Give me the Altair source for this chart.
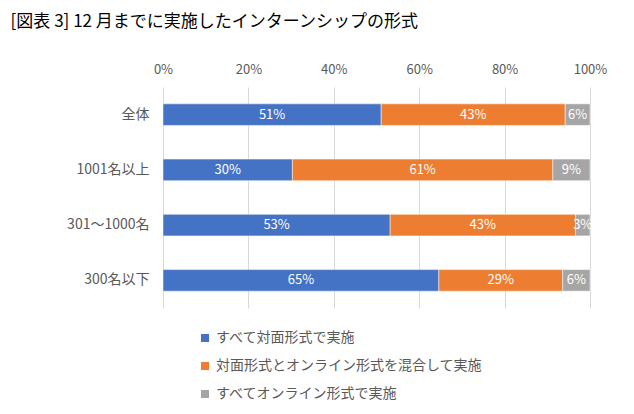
import altair as alt
import pandas as pd

categories = ["全体", "1001名以上", "301～1000名", "300名以下"]
series = ["すべて対面形式で実施", "対面形式とオンライン形式を混合して実施", "すべてオンライン形式で実施"]
in_person = [51.1, 30.3, 53.2, 64.6]
hybrid = [43.1, 61.0, 43.4, 29.0]
online = [5.8, 8.7, 3.4, 6.4]
colors = ["#4472C4", "#ED7D31", "#A5A5A5"]
ticks = [0, 20, 40, 60, 80, 100]
title_text = "[図表 3] 12 月までに実施したインターンシップの形式"

rows = []
for i, c in enumerate(categories):
    for j, (s, vals) in enumerate(zip(series, [in_person, hybrid, online])):
        rows.append({"cat": c, "series": s, "order": j, "value": vals[i]})
df = pd.DataFrame(rows)

FONT = "Noto Sans CJK JP"
GRAY = "#595959"

base = alt.Chart(df).transform_stack(
    stack="value", groupby=["cat"], sort=[alt.SortField("order", order="ascending")], as_=["x0", "x1"]
).transform_calculate(
    mid="(datum.x0 + datum.x1) / 2",
    label="format(datum.value, '.0f') + '%'"
)

y_enc = alt.Y(
    "cat:N", sort=categories, title=None,
    scale=alt.Scale(paddingInner=0.61, paddingOuter=0.305),
    axis=alt.Axis(domain=False, ticks=False, grid=False, labelFont=FONT, labelFontSize=14,
                  labelColor=GRAY, labelPadding=14)
)

bars = base.mark_bar(stroke="white", strokeWidth=0.5).encode(
    x=alt.X("x0:Q", scale=alt.Scale(domain=[0, 100], nice=False),
            axis=alt.Axis(orient="top", values=ticks, labelExpr="datum.value + '%'", title=None,
                          domain=False, ticks=False, grid=True, gridColor="#D9D9D9", gridWidth=1,
                          labelFlush=False, labelOverlap=False,
                          labelFont=FONT, labelFontSize=13, labelColor=GRAY, labelPadding=11)),
    x2="x1:Q",
    y=y_enc,
    color=alt.Color("series:N", sort=series, scale=alt.Scale(domain=series, range=colors),
                    legend=alt.Legend(title=None, orient="none", legendX=35, legendY=244, direction="vertical",
                                      symbolType="square", symbolSize=64, symbolStrokeWidth=0,
                                      labelFont=FONT, labelFontSize=14, labelColor=GRAY, labelLimit=500,
                                      rowPadding=14, padding=0, labelOffset=4)),
    order=alt.Order("order:Q")
)

texts = base.mark_text(color="white", font=FONT, fontSize=13).encode(
    x=alt.X("mid:Q"),
    y=alt.Y("cat:N", sort=categories),
    text="label:N"
)

chart = alt.layer(bars, texts).properties(
    width=427, height=221,
    title=alt.TitleParams(title_text, anchor="start", font=FONT, fontSize=17, fontWeight="normal",
                          color="black", dx=-56, offset=32),
    autosize=alt.AutoSizeParams(type="none"),
    padding={"left": 155, "top": 79, "right": 28, "bottom": 98}
).configure_view(stroke=None)

chart.save("out.html", embed_options={"renderer": "svg", "actions": False})
